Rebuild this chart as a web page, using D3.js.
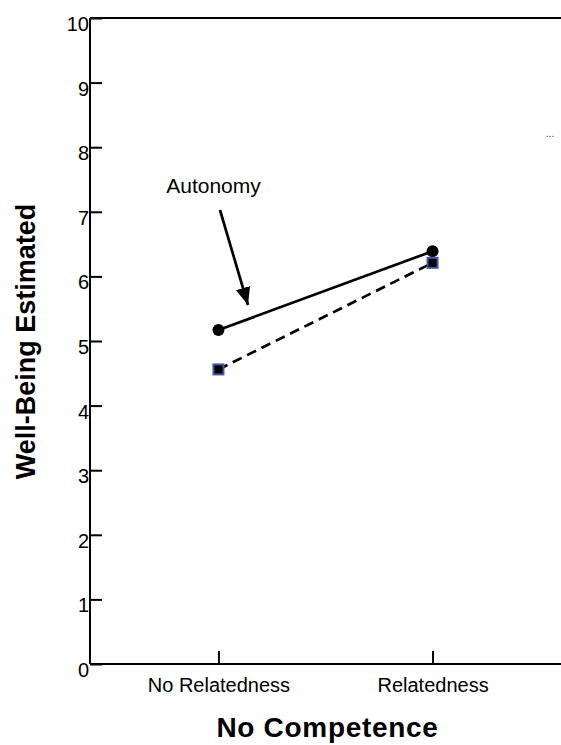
<!DOCTYPE html>
<html>
<head>
<meta charset="utf-8">
<script src="https://cdn.jsdelivr.net/npm/d3@7"></script>
<style>
  body { margin: 0; background: #fff; }
  svg { display: block; font-family: "Liberation Sans", Arial, sans-serif; }
</style>
</head>
<body>
<svg id="canvas" width="561" height="745"></svg>
<script>
// categories along the x axis
const categories = ["No Relatedness", "Relatedness"];
// the two lines
const autonomy = [5.17, 6.39];
const noAutonomy = [4.56, 6.21];
const yTicks = [0, 1, 2, 3, 4, 5, 6, 7, 8, 9, 10];

const svg = d3.select("#canvas");
const plotLeft = 90, plotRight = 561, plotTop = 18, plotBottom = 664;

const x = d3.scalePoint().domain(categories).range([plotLeft, plotRight]).padding(0.6);
const y = d3.scaleLinear().domain([0, 10]).range([plotBottom, plotTop]);

// y axis, ticks pointing inward
const yAxis = svg.append("g")
    .attr("transform", "translate(" + plotLeft + ",0)")
    .call(d3.axisRight(y).tickValues(yTicks).tickSize(12).tickFormat(d3.format("d")));
yAxis.select(".domain").remove();
yAxis.selectAll(".tick line").attr("stroke", "#000").attr("stroke-width", 2);
yAxis.selectAll(".tick text")
    .attr("x", 0).attr("dx", -1).attr("dy", "0.62em")
    .attr("text-anchor", "end")
    .attr("font-size", 20).attr("fill", "#000");
svg.append("line")
    .attr("x1", plotLeft).attr("x2", plotLeft).attr("y1", plotTop).attr("y2", plotBottom)
    .attr("stroke", "#000").attr("stroke-width", 2);

// x axis, ticks upward
const xAxis = svg.append("g")
    .attr("transform", "translate(0," + plotBottom + ")")
    .call(d3.axisTop(x).tickSize(13));
xAxis.select(".domain").remove();
xAxis.selectAll(".tick line").attr("stroke", "#000").attr("stroke-width", 2);
xAxis.selectAll(".tick text")
    .attr("y", 28).attr("dy", 0)
    .attr("font-size", 20).attr("fill", "#000");
svg.append("line")
    .attr("x1", plotLeft).attr("x2", plotRight).attr("y1", plotBottom).attr("y2", plotBottom)
    .attr("stroke", "#000").attr("stroke-width", 2);
// top frame line
svg.append("line")
    .attr("x1", plotLeft).attr("x2", plotRight).attr("y1", plotTop).attr("y2", plotTop)
    .attr("stroke", "#000").attr("stroke-width", 2);

const line = d3.line().x((d, i) => x(categories[i])).y(d => y(d));

svg.append("path").datum(noAutonomy)
    .attr("d", line).attr("fill", "none")
    .attr("stroke", "#000").attr("stroke-width", 2.7)
    .attr("stroke-dasharray", "10,6");
svg.append("path").datum(autonomy)
    .attr("d", line).attr("fill", "none")
    .attr("stroke", "#000").attr("stroke-width", 2.7);

svg.selectAll("circle.auto").data(autonomy).enter().append("circle")
    .attr("class", "auto")
    .attr("cx", (d, i) => x(categories[i]))
    .attr("cy", d => y(d))
    .attr("r", 6)
    .attr("fill", "#000");

svg.selectAll("rect.noauto").data(noAutonomy).enter().append("rect")
    .attr("class", "noauto")
    .attr("x", (d, i) => x(categories[i]) - 5)
    .attr("y", d => y(d) - 5)
    .attr("width", 10).attr("height", 10)
    .attr("fill", "#000")
    .attr("stroke", "#3f57a6").attr("stroke-width", 2);

// annotation arrow and label
svg.append("defs").append("marker")
    .attr("id", "head").attr("viewBox", "0 0 12 10")
    .attr("refX", 12).attr("refY", 5)
    .attr("markerWidth", 6.5).attr("markerHeight", 5.5)
    .attr("orient", "auto")
    .append("path").attr("d", "M0,0L12,5L0,10z").attr("fill", "#000");
svg.append("line")
    .attr("x1", 220).attr("y1", 210).attr("x2", 248).attr("y2", 305)
    .attr("stroke", "#000").attr("stroke-width", 2.7)
    .attr("marker-end", "url(#head)");
svg.append("text")
    .attr("x", 213.5).attr("y", 193)
    .attr("text-anchor", "middle")
    .attr("font-size", 21)
    .text("Autonomy");

svg.append("text")
    .attr("x", 550).attr("y", 137)
    .attr("text-anchor", "middle")
    .attr("font-size", 10).attr("fill", "#444")
    .text("...");

// axis titles
svg.append("text")
    .attr("transform", "translate(35,341.5) rotate(-90)")
    .attr("text-anchor", "middle")
    .attr("font-size", 27).attr("font-weight", "bold")
    .text("Well-Being Estimated");
svg.append("text")
    .attr("x", 327.5).attr("y", 737)
    .attr("text-anchor", "middle")
    .attr("font-size", 28).attr("font-weight", "bold")
    .attr("letter-spacing", 0.7)
    .text("No Competence");
</script>
</body>
</html>
